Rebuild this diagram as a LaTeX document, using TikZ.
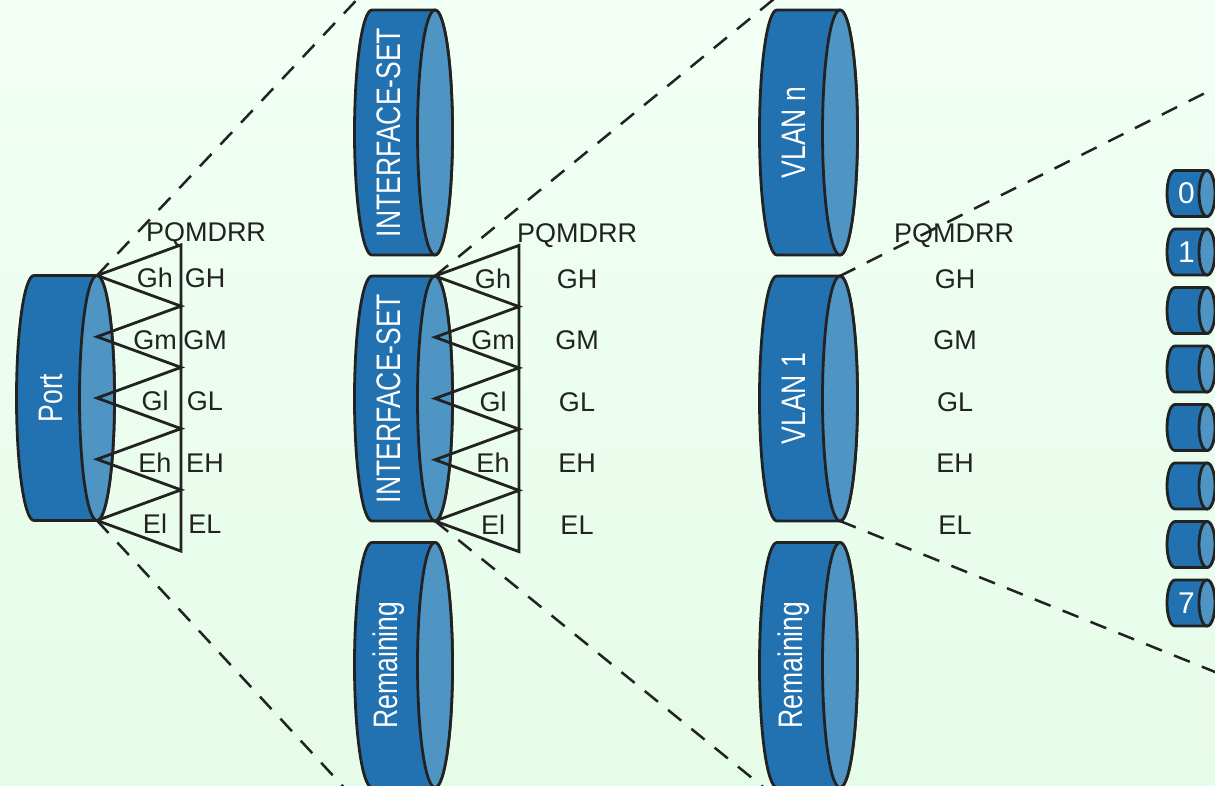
\documentclass[tikz,border=0pt]{standalone}
\usepackage{fontspec}
\setmainfont{Liberation Sans}
\newfontfamily\drumfont[FakeStretch=0.78]{Liberation Sans}
\usetikzlibrary{calc}

\definecolor{drumbody}{HTML}{2271B1}
\definecolor{drumface}{HTML}{4E95C4}
\definecolor{ink}{HTML}{222222}
\definecolor{mintTop}{HTML}{F2FFF5}
\definecolor{mintBot}{HTML}{E5FCE8}

\tikzstyle{drum}=[draw=ink,line width=2.8pt,line join=round]
\tikzstyle{drumtext}=[text=white,font=\drumfont\fontsize{34}{36}\selectfont,rotate=90,inner sep=0pt]
\tikzstyle{qtext}=[text=white,font=\fontsize{30}{32}\selectfont,inner sep=0pt]
\tikzstyle{tag}=[text=ink,font=\fontsize{27}{30}\selectfont,inner sep=0pt,text height=19.4pt,text depth=0pt]
\tikzstyle{zig}=[draw=ink,line width=2.8pt]
\tikzstyle{zoomline}=[ink,line width=2.5pt,dash pattern=on 17pt off 13pt]

\begin{document}
\begin{tikzpicture}[x=1pt,y=-1pt]

  \useasboundingbox (0,0) rectangle (1215,785);
  \clip (0,0) rectangle (1215,785);
  \shade[top color=mintTop,bottom color=mintBot] (0,0) rectangle (1215,785); % background

  % large drums, end face on the right
  \foreach \nm/\fx/\fy/\txt in {port/97/398/Port, setA/435/132.5/INTERFACE-SET,
      setB/435/398.5/INTERFACE-SET, restA/435/665/Remaining, vlann/840/132.5/VLAN n,
      vlan1/840/398.5/VLAN 1, restB/840/665/Remaining}{
    \filldraw[drum,fill=drumbody] (\fx,\fy-122.5) -- ++(-63,0) arc (-90:-270:17.5 and 122.5)
      -- (\fx,\fy+122.5) arc (90:-90:17.5 and 122.5) -- cycle;
    \filldraw[drum,fill=drumface] (\fx,\fy) ellipse (17.5 and 122.5);
    \node[drumtext] (\nm) at (\fx-46,\fy) {\txt};
    \coordinate (\nm-n) at (\fx,\fy-122.5);
    \coordinate (\nm-s) at (\fx,\fy+122.5);
  }

  % queue drums
  \foreach \q/\txt in {0/0,1/1,2/,3/,4/,5/,6/,7/7}{
    \pgfmathsetmacro\fy{193.5+58.5*\q}
    \filldraw[drum,fill=drumbody] (1207,\fy-23) -- (1175,\fy-23) arc (-90:-270:8 and 23)
      -- (1207,\fy+23) arc (90:-90:8 and 23) -- cycle;
    \filldraw[drum,fill=drumface] (1207,\fy) ellipse (8 and 23);
    \node[qtext] (q\q) at (1186.5,\fy) {\txt};
  }

  % priority fans
  \foreach \nm in {port,setB}{
    \draw[zig] ($(\nm-n)+(84,-30.625)$)
      foreach \k in {1,...,5}{ -- ++(-84,30.625) -- ++(84,30.625)} -- cycle;
  }

  % priority labels
  \node[tag] (port-pq) at ($(port-n)+(109,-43.5)$) {PQMDRR};
  \node[tag] (setB-pq) at ($(setB-n)+(142,-43.5)$) {PQMDRR};
  \node[tag] (vlan1-pq) at ($(vlan1-n)+(114,-43.5)$) {PQMDRR};
  \foreach \k/\lo/\hi in {0/Gh/GH,1/Gm/GM,2/Gl/GL,3/Eh/EH,4/El/EL}{
    \node[tag] (port-lo\k) at ($(port-n)+(58,2.5+61.5*\k)$) {\lo};
    \node[tag] (port-hi\k) at ($(port-n)+(108,2.5+61.5*\k)$) {\hi};
    \node[tag] (setB-lo\k) at ($(setB-n)+(58,2.5+61.5*\k)$) {\lo};
    \node[tag] (setB-hi\k) at ($(setB-n)+(142,2.5+61.5*\k)$) {\hi};
    \node[tag] (vlan1-hi\k) at ($(vlan1-n)+(115,2.5+61.5*\k)$) {\hi};
  }

  % zoom-out lines
  \coordinate (portUp) at (366,-10);
  \coordinate (portDown) at (351,795);
  \coordinate (setUp) at (785,-10);
  \coordinate (setDown) at (773,795);
  \coordinate (vlanUp) at (1235,78);
  \coordinate (vlanDown) at (1235,680);
  \draw[zoomline] (port-n) -- (portUp);
  \draw[zoomline] (port-s) -- (portDown);
  \draw[zoomline] (setB-n) -- (setUp);
  \draw[zoomline] (setB-s) -- (setDown);
  \draw[zoomline] (vlan1-n) -- (vlanUp);
  \draw[zoomline] (vlan1-s) -- (vlanDown);

\end{tikzpicture}
\end{document}
